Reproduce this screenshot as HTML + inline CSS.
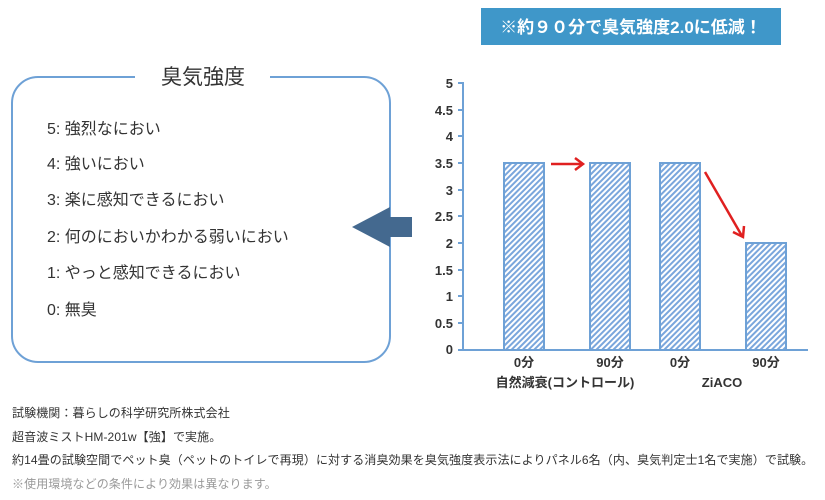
<!DOCTYPE html>
<html><head><meta charset="utf-8"><style>
body{margin:0;width:825px;height:500px;background:#fff;overflow:hidden;position:relative;font-family:"Liberation Sans","Noto Sans CJK JP",sans-serif;}
.ft{position:absolute;left:12px;font-size:12px;letter-spacing:0.1px;color:#333;white-space:nowrap;}
</style></head><body>
<svg width="825" height="500" style="position:absolute;left:0;top:0" font-family="Liberation Sans, Noto Sans CJK JP, sans-serif">
<defs>
<pattern id="h" width="4" height="4" patternUnits="userSpaceOnUse" patternTransform="rotate(45)">
<rect width="4" height="4" fill="#fff"/><rect width="2" height="4" fill="#7aa6dc"/>
</pattern>
</defs>
<rect x="481" y="8" width="300" height="37" fill="#3f97c9"/>
<text x="631" y="33" font-size="17" font-weight="bold" fill="#fff" text-anchor="middle">※約９０分で臭気強度2.0に低減！</text>
<rect x="12" y="77" width="378" height="285" rx="26" fill="none" stroke="#6ea1d6" stroke-width="2"/>
<rect x="135" y="66" width="135" height="20" fill="#fff"/>
<text x="203" y="84" font-size="21" fill="#333" text-anchor="middle">臭気強度</text>
<g font-size="16" fill="#333">
<text x="47" y="134">5: 強烈なにおい</text>
<text x="47" y="169">4: 強いにおい</text>
<text x="47" y="205">3: 楽に感知できるにおい</text>
<text x="47" y="242">2: 何のにおいかわかる弱いにおい</text>
<text x="47" y="278">1: やっと感知できるにおい</text>
<text x="47" y="315">0: 無臭</text>
</g>
<polygon points="352,227 390,207 390,217 412,217 412,237 390,237 390,247" fill="#44698f"/>
<g stroke="#6ea1d6" stroke-width="2">
<line x1="463" y1="82" x2="463" y2="350"/>
<line x1="458" y1="350" x2="808" y2="350"/>
<line x1="458" y1="83" x2="463" y2="83"/><line x1="458" y1="110" x2="463" y2="110"/>
<line x1="458" y1="136" x2="463" y2="136"/><line x1="458" y1="163" x2="463" y2="163"/>
<line x1="458" y1="190" x2="463" y2="190"/><line x1="458" y1="216" x2="463" y2="216"/>
<line x1="458" y1="243" x2="463" y2="243"/><line x1="458" y1="270" x2="463" y2="270"/>
<line x1="458" y1="296" x2="463" y2="296"/><line x1="458" y1="323" x2="463" y2="323"/>
</g>
<g font-size="13" font-weight="bold" fill="#333" text-anchor="end">
<text x="453" y="88">5</text><text x="453" y="115">4.5</text><text x="453" y="141">4</text>
<text x="453" y="168">3.5</text><text x="453" y="195">3</text><text x="453" y="221">2.5</text>
<text x="453" y="248">2</text><text x="453" y="275">1.5</text><text x="453" y="301">1</text>
<text x="453" y="328">0.5</text><text x="453" y="354">0</text>
</g>
<g fill="url(#h)" stroke="#6ea1d6" stroke-width="2">
<rect x="504" y="163" width="40" height="187"/>
<rect x="590" y="163" width="40" height="187"/>
<rect x="660" y="163" width="40" height="187"/>
<rect x="746" y="243" width="40" height="107"/>
</g>
<g stroke="#e02020" stroke-width="2.5" fill="none">
<line x1="551" y1="164" x2="582" y2="164"/><polyline points="575,158 583,164 575,170"/>
<line x1="705" y1="172" x2="742" y2="236"/><polyline points="733,232 743,237 744,226"/>
</g>
<g font-size="13" font-weight="bold" fill="#333" text-anchor="middle">
<text x="524" y="367">0分</text><text x="610" y="367">90分</text>
<text x="680" y="367">0分</text><text x="766" y="367">90分</text>
<text x="565" y="387">自然減衰(コントロール)</text><text x="722" y="387">ZiACO</text>
</g>
</svg>
<div class="ft" style="top:404px">試験機関：暮らしの科学研究所株式会社</div>
<div class="ft" style="top:428px">超音波ミストHM-201w【強】で実施。</div>
<div class="ft" style="top:451px">約14畳の試験空間でペット臭（ペットのトイレで再現）に対する消臭効果を臭気強度表示法によりパネル6名（内、臭気判定士1名で実施）で試験。</div>
<div class="ft" style="top:475px;color:#999">※使用環境などの条件により効果は異なります。</div>
</body></html>
